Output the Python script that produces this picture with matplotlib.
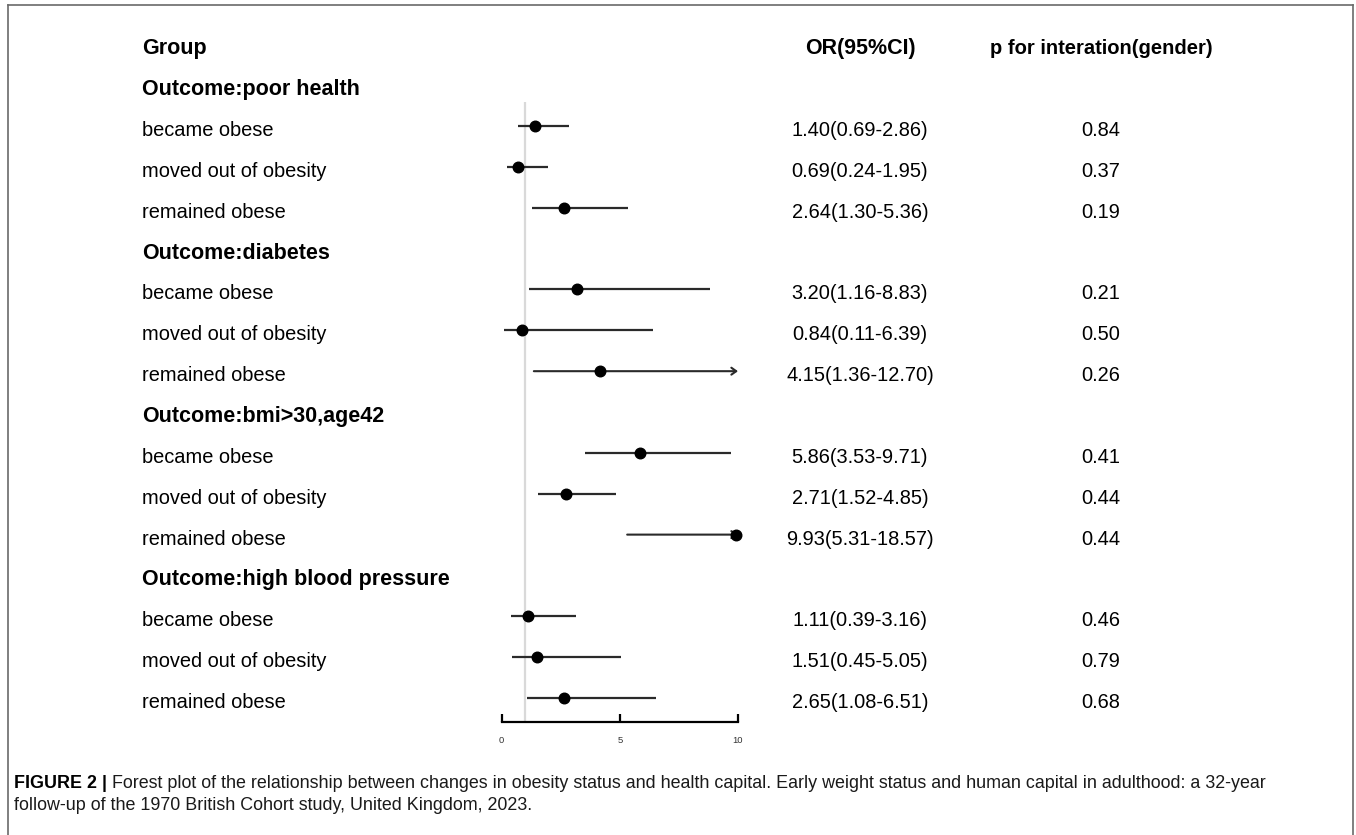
import matplotlib
matplotlib.use("Agg")
import matplotlib.pyplot as plt
import matplotlib.transforms as mtransforms
from matplotlib.lines import Line2D

# data
groups = ["poor health", "diabetes", "bmi>30,age42", "high blood pressure"]
subgroups = ["became obese", "moved out of obesity", "remained obese"]
or_est = [1.40, 0.69, 2.64, 3.20, 0.84, 4.15, 5.86, 2.71, 9.93, 1.11, 1.51, 2.65]
ci_lo = [0.69, 0.24, 1.30, 1.16, 0.11, 1.36, 3.53, 1.52, 5.31, 0.39, 0.45, 1.08]
ci_hi = [2.86, 1.95, 5.36, 8.83, 6.39, 12.70, 9.71, 4.85, 18.57, 3.16, 5.05, 6.51]
p_inter = ["0.84", "0.37", "0.19", "0.21", "0.50", "0.26",
           "0.41", "0.44", "0.44", "0.46", "0.79", "0.68"]
x_ticks = [0, 5, 10]
x_max = 10

plt.rcParams['font.family'] = ['Liberation Sans', 'DejaVu Sans']

W, H = 1356, 835
fig = plt.figure(figsize=(W / 100, H / 100), dpi=100)

# forest axes (pixel layout converted to fractions)
x0, x1 = 501.7, 738.0
row0, step = 44.3, 40.86
y_axis = 722.0
y_bot = (y_axis - row0) / step
ax = fig.add_axes([x0 / W, 1 - y_axis / H, (x1 - x0) / W,
                   (y_axis - (row0 - 0.5 * step)) / H])
ax.set_xlim(0, x_max)
ax.set_ylim(y_bot, -0.5)

trans = mtransforms.blended_transform_factory(fig.transFigure, ax.transData)
trans = mtransforms.offset_copy(trans, fig=fig, y=-4.5, units='dots')
fs = 14.4
fsb = 15.5

# header
ax.text(142 / W, 0, "Group", transform=trans, fontsize=fsb, fontweight='bold', va='center', ha='left')
ax.text(860 / W, 0, "OR(95%CI)", transform=trans, fontsize=fsb, fontweight='bold', va='center', ha='center')
ax.text(1101 / W, 0, "p for interation(gender)", transform=trans, fontsize=14.5, fontweight='bold',
        va='center', ha='center')

# reference line
ax.vlines(1, 1.41, y_bot, color='#d9d9d9', lw=1.6, zorder=1)

row = 1
k = 0
for g in groups:
    ax.text(142 / W, row, "Outcome:" + g, transform=trans, fontsize=fsb, fontweight='bold',
            va='center', ha='left')
    row += 1
    for s in subgroups:
        ax.text(142 / W, row, s, transform=trans, fontsize=fs, va='center', ha='left')
        ax.text(860 / W, row, f"{or_est[k]:.2f}({ci_lo[k]:.2f}-{ci_hi[k]:.2f})", transform=trans,
                fontsize=fs, va='center', ha='center')
        ax.text(1101 / W, row, p_inter[k], transform=trans, fontsize=fs, va='center', ha='center')
        hi = min(ci_hi[k], x_max)
        if ci_hi[k] > x_max:
            ax.annotate('', xy=(hi, row), xytext=(ci_lo[k], row),
                        arrowprops=dict(arrowstyle='->,head_length=0.35,head_width=0.25',
                                        lw=1.5, color='#2a2a2a', shrinkA=0, shrinkB=0),
                        zorder=2)
        else:
            ax.hlines(row, ci_lo[k], hi, color='#2a2a2a', lw=1.6, zorder=2)
        ax.plot(or_est[k], row, 'o', color='black', markersize=7.6, zorder=3, clip_on=False)
        row += 1
        k += 1

# axis styling
for sp in ['top', 'left', 'right']:
    ax.spines[sp].set_visible(False)
ax.spines['bottom'].set_linewidth(1.6)
ax.spines['bottom'].set_color('black')
ax.set_yticks([])
ax.set_xticks(x_ticks)
ax.tick_params(axis='x', direction='in', length=5.5, width=1.6, labelsize=6.8, pad=10,
               labelcolor='#333333')
ax.patch.set_alpha(0)

# frame around the figure
fc = '#6a6a6a'
fig.add_artist(Line2D([8 / W, 1353 / W], [1 - 5 / H, 1 - 5 / H], color=fc, lw=1.2))
fig.add_artist(Line2D([8 / W, 8 / W], [0, 1 - 5 / H], color=fc, lw=1.2))
fig.add_artist(Line2D([1353 / W, 1353 / W], [0, 1 - 5 / H], color=fc, lw=1.2))

# caption
cfs = 12.9
t1 = fig.text(14 / W, 1 - 783 / H, "FIGURE 2 |", fontsize=cfs, fontweight='bold',
              va='center', ha='left')
ax.annotate(" Forest plot of the relationship between changes in obesity status and health capital. "
            "Early weight status and human capital in adulthood: a 32-year",
            xy=(1, 0.5), xycoords=t1, va='center', ha='left', fontsize=cfs,
            color='#1a1a1a', annotation_clip=False)
fig.text(14 / W, 1 - 805 / H, "follow-up of the 1970 British Cohort study, United Kingdom, 2023.",
         fontsize=cfs, color='#1a1a1a', va='center', ha='left')

fig.savefig("out.png", dpi=100)
